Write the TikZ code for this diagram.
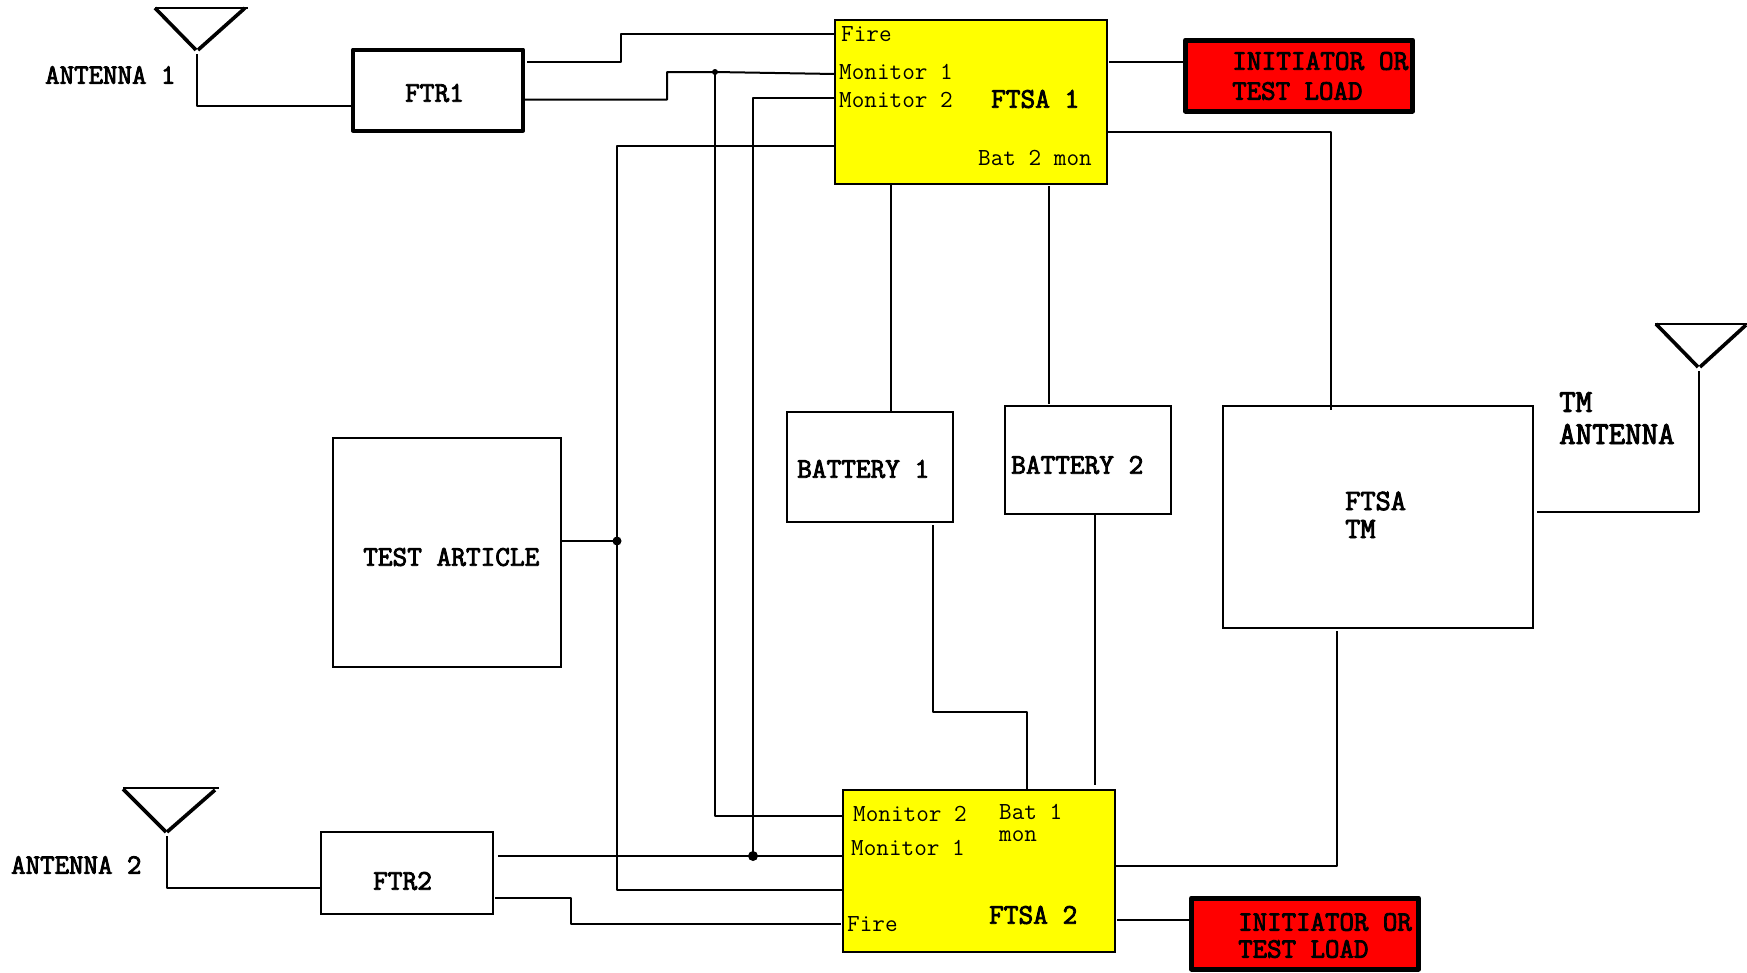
\documentclass[tikz,border=0pt]{standalone}
\usepackage{xcolor}
\usepackage{fontspec}
\newfontfamily\heavymono[FakeBold=3]{Latin Modern Mono}
\setmonofont{Latin Modern Mono}

\definecolor{ftsayellow}{RGB}{255,255,0}
\definecolor{loadred}{RGB}{255,0,0}

\tikzset{
    wire/.style={line width=2pt, line join=round},
    aerial/.style={line width=3.6pt},
    plainbox/.style={draw, line width=2pt, outer sep=0pt, inner sep=0pt},
    heavybox/.style={plainbox, line width=4pt, line join=round},
    ftsabox/.style={plainbox, fill=ftsayellow, minimum width=272pt, minimum height=164pt},
    loadbox/.style={plainbox, fill=loadred, line width=5pt, line join=round, minimum width=227pt, minimum height=71pt},
    battbox/.style={plainbox, minimum width=166pt, minimum height=110pt},
    title/.style={anchor=west, inner sep=0pt, font=\heavymono\fontsize{28.5}{32}\selectfont},
    smalltitle/.style={title, font=\heavymono\fontsize{28.1}{32}\selectfont},
    bigtitle/.style={title, font=\heavymono\fontsize{32}{35}\selectfont},
    portname/.style={anchor=west, inner sep=0pt, font=\ttfamily\fontsize{24.5}{22}\selectfont},
    junction/.style={fill=black, circle, inner sep=0pt, minimum size=10pt}
}

\begin{document}
\begin{tikzpicture}[x=1pt, y=-1pt]
    \useasboundingbox (0,0) rectangle (1747,972);

    % Boxes
    \node[heavybox, minimum width=170pt, minimum height=81pt] (ftrone) at (438,90) {};
    \node[plainbox, minimum width=172pt, minimum height=82pt] (ftrtwo) at (407,873) {};
    \node[plainbox, minimum width=228pt, minimum height=229pt] (testart) at (447,552.5) {};
    \node[ftsabox] (ftsaone) at (971,102) {};
    \node[ftsabox, minimum height=162pt] (ftsatwo) at (979,871) {};
    \node[loadbox] (loadone) at (1299,75.5) {};
    \node[loadbox] (loadtwo) at (1305,933.5) {};
    \node[battbox] (battone) at (870,467) {};
    \node[battbox, minimum height=108pt] (batttwo) at (1088,459.5) {};
    \node[plainbox, minimum width=310pt, minimum height=222pt] (ftsatm) at (1378,517) {};

    % Junctions and free wire ends
    \coordinate (batjoin) at (617,541);
    \coordinate (monjoinone) at (715,72);
    \coordinate (monjointwo) at (753,856);
    \coordinate (stemone) at (197,54);
    \coordinate (stemtwo) at (167,836);
    \coordinate (stemtm) at (1699,371);

    % Antennas
    \draw[line width=2.6pt] (155,8) -- (248,8);
    \draw[aerial] (155,8) -- (196,50);
    \draw[aerial] (245,8) -- (198,50);
    \draw[line width=2.6pt] (123,788) -- (219,788);
    \draw[aerial] (123,789) -- (166,832);
    \draw[aerial] (215,790) -- (167,832);
    \draw[line width=2.6pt] (1655,324) -- (1747,324);
    \draw[aerial] (1656,324) -- (1698,367);
    \draw[aerial] (1746,325) -- (1700,367);

    % Antenna to receiver
    \draw[wire] (stemone) |- ([yshift=-16pt]ftrone.west);
    \draw[wire] (stemtwo) |- ([yshift=-15pt]ftrtwo.west);
    \draw[wire] (stemtm) |- ([xshift=4pt,yshift=5pt]ftsatm.east);

    % FTR1 to FTSA 1
    \draw[wire] ([xshift=4pt,yshift=28pt]ftrone.east) -- ++(94,0) |- ([yshift=68pt]ftsaone.west);
    \draw[wire] ([yshift=-9.5pt]ftrone.east) -- ++(144,0) -- ++(0,-27.5) -- (monjoinone) -- ([yshift=28pt]ftsaone.west);

    % Monitor lines between the two FTSAs
    \draw[wire] (monjoinone) |- ([yshift=55pt]ftsatwo.west);
    \draw[wire] ([yshift=4pt]ftsaone.west) -| (monjointwo);
    \draw[wire] ([xshift=5pt,yshift=17pt]ftrtwo.east) -- ([yshift=15pt]ftsatwo.west);
    \node[junction, minimum size=6pt] (dotone) at (monjoinone) {};
    \node[junction] (dottwo) at (monjointwo) {};

    % Test article bus
    \draw[wire] ([yshift=-44pt]ftsaone.west) -| (batjoin) |- ([yshift=-19pt]ftsatwo.west);
    \draw[wire] ([yshift=11.5pt]testart.east) -- (batjoin);
    \node[junction, minimum size=9pt] (dotbus) at (batjoin) {};

    % FTR2 fire line
    \draw[wire] ([xshift=2pt,yshift=-25pt]ftrtwo.east) -- ++(76,0) |- ([xshift=-2pt,yshift=-53pt]ftsatwo.west);

    % Loads
    \draw[wire] ([xshift=2pt,yshift=40pt]ftsaone.east) -- ([yshift=13.5pt]loadone.west);
    \draw[wire] ([xshift=2pt,yshift=-49pt]ftsatwo.east) -- ([yshift=13.5pt]loadtwo.west);

    % Batteries
    \draw[wire] ([xshift=-80pt]ftsaone.south) -- ([xshift=21pt]battone.north);
    \draw[wire, shorten <=2pt, shorten >=2pt] ([xshift=78pt]ftsaone.south) -- ([xshift=-39pt]batttwo.north);
    \draw[wire, shorten <=3pt] ([xshift=63pt]battone.south) -- ++(0,190) -| ([xshift=48pt]ftsatwo.north);
    \draw[wire, shorten >=5pt] ([xshift=7pt]batttwo.south) -- ([xshift=116pt]ftsatwo.north);

    % Telemetry
    \draw[wire] ([yshift=-30pt]ftsaone.east) -| ([xshift=-47pt,yshift=-4pt]ftsatm.north);
    \draw[wire, shorten <=3pt] ([xshift=-41pt]ftsatm.south) |- ([yshift=5pt]ftsatwo.east);

    % Labels
    \node[smalltitle] (antonelabel) at (45,75) {ANTENNA 1};
    \node[smalltitle] (anttwolabel) at (11,865) {ANTENNA 2};
    \node[title] (ftronelabel) at (405,93) {FTR1};
    \node[title] (ftrtwolabel) at (373,881) {FTR2};
    \node[title] (testlabel) at (363,557) {TEST ARTICLE};
    \node[title] (battonelabel) at (797,469) {BATTERY 1};
    \node[title] (batttwolabel) at (1011,465) {BATTERY 2};
    \node[title, font=\heavymono\fontsize{29.5}{32}\selectfont] (tmlabelone) at (1345,501) {FTSA};
    \node[title, font=\heavymono\fontsize{29.5}{32}\selectfont] (tmlabeltwo) at (1345,529) {TM};
    \node[bigtitle] (tmantone) at (1559,402) {TM};
    \node[bigtitle] (tmanttwo) at (1559,434) {ANTENNA};

    \node[title] (ftsaonelabel) at (991,99) {FTSA 1};
    \node[title] (ftsatwolabel) at (989,915) {FTSA 2};
    \node[title] (loadonea) at (1232,61) {INITIATOR OR};
    \node[smalltitle] (loadoneb) at (1232,91) {TEST LOAD};
    \node[smalltitle] (loadtwoa) at (1238,922) {INITIATOR OR};
    \node[smalltitle] (loadtwob) at (1238,949) {TEST LOAD};

    \node[portname] (fireone) at (841,34) {Fire};
    \node[portname] (monaone) at (839,72) {Monitor 1};
    \node[portname] (monbone) at (839,100) {Monitor 2};
    \node[portname] (batbone) at (978,158) {Bat 2 mon};
    \node[portname] (monbtwo) at (853,814) {Monitor 2};
    \node[portname] (monatwo) at (851,848) {Monitor 1};
    \node[portname] (firetwo) at (847,924) {Fire};
    \node[portname, align=left] (batatwo) at (999,823) {Bat 1\\mon};
\end{tikzpicture}
\end{document}
